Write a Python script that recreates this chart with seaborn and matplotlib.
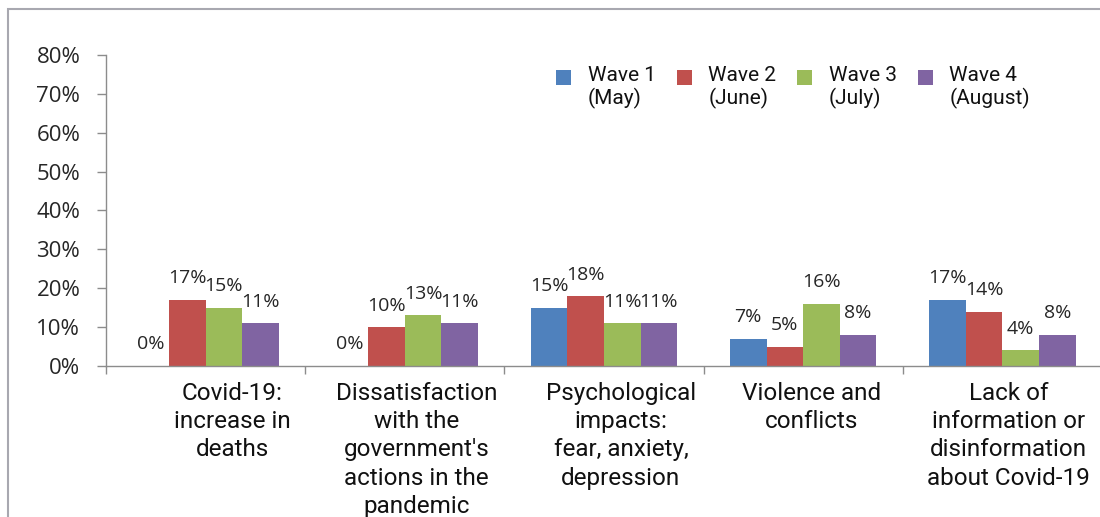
import matplotlib
matplotlib.use("Agg")
import matplotlib.pyplot as plt
from matplotlib.patches import Rectangle
from matplotlib.ticker import FixedLocator, FuncFormatter
from matplotlib.transforms import ScaledTranslation
import pandas as pd
import seaborn as sns

# Concerns reported in each survey wave (% of respondents)
categories = [
    "Covid-19:\nincrease in\ndeaths",
    "Dissatisfaction\nwith the\ngovernment's\nactions in the\npandemic",
    "Psychological\nimpacts:\nfear, anxiety,\ndepression",
    "Violence and\nconflicts",
    "Lack of\ninformation or\ndisinformation\nabout Covid-19",
]
waves = ["Wave 1\n(May)", "Wave 2\n(June)", "Wave 3\n(July)", "Wave 4\n(August)"]
wave1 = [0, 0, 15, 7, 17]
wave2 = [17, 10, 18, 5, 14]
wave3 = [15, 13, 11, 16, 4]
wave4 = [11, 11, 11, 8, 8]
y_ticks = [0, 10, 20, 30, 40, 50, 60, 70, 80]

colors = ["#4F81BD", "#C0504D", "#9BBB59", "#8064A2"]

rows = []
for wave, series in zip(waves, [wave1, wave2, wave3, wave4]):
    for cat, val in zip(categories, series):
        rows.append({"category": cat, "wave": wave, "value": val})
df = pd.DataFrame(rows)

sns.set_style("white")
plt.rcParams["font.family"] = ["Roboto", "DejaVu Sans"]

fig = plt.figure(figsize=(11, 5.17), dpi=100)
ax = fig.add_axes([0.09636, 0.29207, 0.90545, 0.60155])

sns.barplot(
    data=df, x="category", y="value", hue="wave",
    order=categories, hue_order=waves, palette=colors,
    width=0.735, saturation=1, edgecolor="none", linewidth=0,
    legend=True, ax=ax,
)

# value labels above each bar
for container in ax.containers:
    vals = container.datavalues
    ax.bar_label(
        container, labels=[f"{v:.0f}%" for v in vals], padding=9,
        fontsize=14, family=["Open Sans", "DejaVu Sans"], color="#262626",
    )

ax.set_ylim(0, 80)
ax.set_xlim(-0.5, len(categories) - 0.5)
ax.yaxis.set_major_locator(FixedLocator(y_ticks))
ax.yaxis.set_major_formatter(FuncFormatter(lambda v, _: f"{v:.0f}%"))
ax.set_xlabel("")
ax.set_ylabel("")

spine_color = "#8c8c8c"
for side in ["top", "right"]:
    ax.spines[side].set_visible(False)
for side in ["left", "bottom"]:
    ax.spines[side].set_color(spine_color)
    ax.spines[side].set_linewidth(1.0)

ax.tick_params(axis="y", which="major", direction="out", length=6.5, width=1,
               color=spine_color, pad=12, labelsize=16, labelcolor="#262626",
               left=True)
for lab in ax.get_yticklabels():
    lab.set_family(["Open Sans", "DejaVu Sans"])

# category separators on the x axis
ax.xaxis.set_minor_locator(FixedLocator([i - 0.5 for i in range(len(categories) + 1)]))
ax.tick_params(axis="x", which="minor", direction="out", length=5.5, width=1,
               color=spine_color, bottom=True)
ax.tick_params(axis="x", which="major", length=0, pad=11.5, labelsize=17.5,
               labelcolor="#111111")
# wrapped category labels sit a little right of their group centre
label_shift_px = [27, 12, 17, 8, 6]
for lab, dx in zip(ax.get_xticklabels(), label_shift_px):
    lab.set_linespacing(1.29)
    lab.set_multialignment("center")
    lab.set_transform(lab.get_transform()
                      + ScaledTranslation(dx / 100, 0, fig.dpi_scale_trans))

ax.get_legend().remove()
handles, labels = ax.get_legend_handles_labels()
leg = fig.legend(
    handles, labels, loc="upper left", bbox_to_anchor=(0.5055, 0.873),
    bbox_transform=fig.transFigure, ncol=4, frameon=False, fontsize=15,
    handlelength=0.72, handleheight=0.72, handletextpad=0.8,
    columnspacing=1.0, borderpad=0, borderaxespad=0,
)
for t in leg.get_texts():
    t.set_linespacing(1.2)
    t.set_color("#111111")
# raise the colour keys to the first line of each label
for h in leg.legend_handles:
    h.set_y(h.get_y() + 7.5)

# light frame around the figure
fig.patches.append(Rectangle((8 / 1100, -0.2), 1.2, 0.2 + 1 - 9 / 517,
                             transform=fig.transFigure, fill=False,
                             edgecolor="#a8a8b0", linewidth=1.5))

fig.savefig("out.png", dpi=100)
